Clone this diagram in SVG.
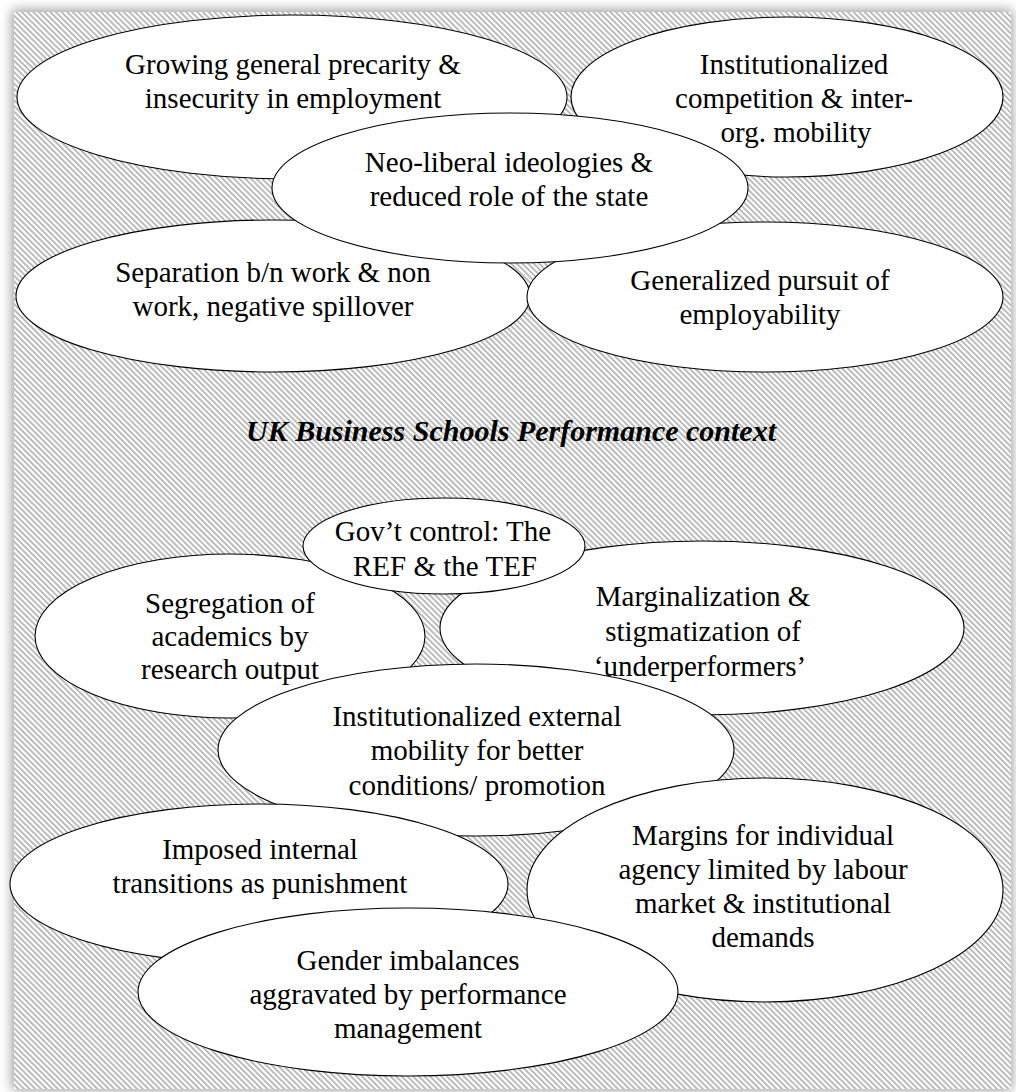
<svg xmlns="http://www.w3.org/2000/svg" width="1016" height="1092" viewBox="0 0 1016 1092">
  <defs>
    <pattern id="hatch" patternUnits="userSpaceOnUse" width="8" height="4" patternTransform="rotate(45)">
      <rect width="8" height="4" fill="#ffffff"/>
      <rect width="8" height="2" fill="#bcbcbc"/>
    </pattern>
    <filter id="soft" x="-5%" y="-5%" width="110%" height="110%">
      <feGaussianBlur stdDeviation="6"/>
    </filter>
    <style>
      .node ellipse { fill: #ffffff; stroke: #000000; stroke-width: 1.1; }
      .node text { font-family: "Liberation Serif", "Times New Roman", serif; font-size: 29px; fill: #000000; text-anchor: middle; }
      .title { font-family: "Liberation Serif", "Times New Roman", serif; font-size: 30px; font-weight: bold; font-style: italic; text-anchor: middle; fill: #000000; }
    </style>
  </defs>

  <!-- page background and soft shadow behind the panel -->
  <rect width="1016" height="1092" fill="#ffffff"/>
  <rect x="12" y="10" width="1000" height="1080" fill="#9a9a9a" filter="url(#soft)"/>
  <rect x="14" y="12" width="997" height="1077" fill="url(#hatch)"/>

  <g id="connectors"></g>

  <!-- wider context -->
  <g id="n-precarity" class="node">
    <ellipse cx="292" cy="97" rx="275" ry="82"/>
    <text x="293" y="74">Growing general precarity &amp;</text>
    <text x="293" y="108">insecurity in employment</text>
  </g>
  <g id="n-competition" class="node">
    <ellipse cx="787" cy="97" rx="216" ry="80"/>
    <text x="794" y="74">Institutionalized</text>
    <text x="794" y="108">competition &amp; inter-</text>
    <text x="796" y="142">org. mobility</text>
  </g>
  <g id="n-separation" class="node">
    <ellipse cx="273" cy="296" rx="257" ry="76"/>
    <text x="273" y="282">Separation b/n work &amp; non</text>
    <text x="273" y="316">work, negative spillover</text>
  </g>
  <g id="n-employability" class="node">
    <ellipse cx="765" cy="297" rx="238" ry="75"/>
    <text x="760" y="290">Generalized pursuit of</text>
    <text x="760" y="324">employability</text>
  </g>
  <g id="n-neoliberal" class="node">
    <ellipse cx="510" cy="188" rx="238" ry="75"/>
    <text x="509" y="172">Neo-liberal ideologies &amp;</text>
    <text x="509" y="206">reduced role of the state</text>
  </g>

  <text class="title" x="511" y="441">UK Business Schools Performance context</text>

  <!-- performance context -->
  <g id="n-segregation" class="node">
    <ellipse cx="230" cy="636" rx="195" ry="82"/>
    <text x="230" y="613">Segregation of</text>
    <text x="230" y="646">academics by</text>
    <text x="230" y="679">research output</text>
  </g>
  <g id="n-marginalization" class="node">
    <ellipse cx="702" cy="628" rx="262" ry="87"/>
    <text x="703" y="606">Marginalization &amp;</text>
    <text x="703" y="641">stigmatization of</text>
    <text x="700" y="676">‘underperformers’</text>
  </g>
  <g id="n-govcontrol" class="node">
    <ellipse cx="444" cy="546" rx="141" ry="48"/>
    <text x="443" y="541">Gov’t control: The</text>
    <text x="445" y="576">REF &amp; the TEF</text>
  </g>
  <g id="n-mobility" class="node">
    <ellipse cx="476" cy="750" rx="258" ry="86"/>
    <text x="477" y="726">Institutionalized external</text>
    <text x="477" y="760">mobility for better</text>
    <text x="477" y="795">conditions/ promotion</text>
  </g>
  <g id="n-transitions" class="node">
    <ellipse cx="259" cy="884" rx="249" ry="80"/>
    <text x="260" y="859">Imposed internal</text>
    <text x="260" y="893">transitions as punishment</text>
  </g>
  <g id="n-agency" class="node">
    <ellipse cx="765" cy="890" rx="238" ry="112"/>
    <text x="763" y="845">Margins for individual</text>
    <text x="763" y="879">agency limited by labour</text>
    <text x="763" y="913">market &amp; institutional</text>
    <text x="763" y="947">demands</text>
  </g>
  <g id="n-gender" class="node">
    <ellipse cx="408" cy="992" rx="270" ry="84"/>
    <text x="408" y="970">Gender imbalances</text>
    <text x="408" y="1004">aggravated by performance</text>
    <text x="408" y="1038">management</text>
  </g>
</svg>
